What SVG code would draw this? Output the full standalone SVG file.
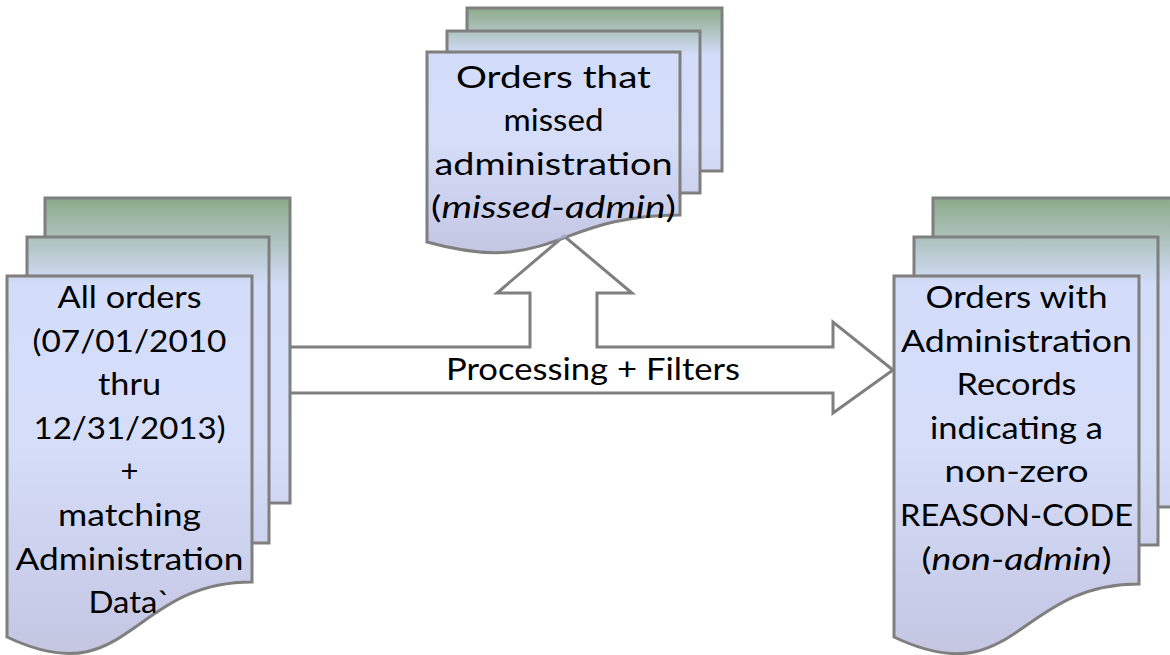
<svg xmlns="http://www.w3.org/2000/svg" xmlns:xlink="http://www.w3.org/1999/xlink" width="1170" height="655" viewBox="0 0 1170 655">
  <style>
    .page { stroke: #7f7f7f; stroke-width: 3; stroke-linejoin: miter; }
    .flow { fill: #ffffff; stroke: #7f7f7f; stroke-width: 3; stroke-linejoin: miter; }
    .label { font-family: Lato, "Liberation Sans", sans-serif; font-size: 31px; fill: #000000; text-anchor: middle; }
    .em { font-style: italic; }
  </style>
  <defs>
    <!-- shared page shading: green top edge, pale blue body, lavender foot -->
    <linearGradient id="shadeLeft" gradientUnits="userSpaceOnUse" x1="0" y1="198" x2="0" y2="652">
      <stop offset="0" stop-color="#8cab89"/>
      <stop offset="0.19" stop-color="#d3dcf8"/>
      <stop offset="0.55" stop-color="#d5ddf9"/>
      <stop offset="1" stop-color="#c4c6e2"/>
    </linearGradient>
    <linearGradient id="shadeTop" href="#shadeLeft" xlink:href="#shadeLeft" gradientUnits="userSpaceOnUse" x1="0" y1="8" x2="0" y2="252"/>
    <linearGradient id="shadeRight" href="#shadeLeft" xlink:href="#shadeLeft" gradientUnits="userSpaceOnUse" x1="0" y1="198" x2="0" y2="652"/>
    <clipPath id="topFrontClip">
      <path d="M427,52 L680,52 L680,215 C553.5,215 553.5,277 427,242 Z"/>
    </clipPath>
  </defs>

  <!-- block arrows -->
  <g id="connectors">
    <path class="flow" d="M290,347 L530,347 L530,293 L497,293 L564,236 L632,293 L597,293 L597,347 L833,347 L833,322 L893,370 L833,413 L833,393 L290,393"/>
    <text class="label" x="593" y="380" textLength="294" lengthAdjust="spacingAndGlyphs">Processing + Filters</text>
  </g>

  <!-- input stack -->
  <g id="all-orders">
    <rect class="page" x="45" y="198" width="245" height="305" fill="url(#shadeLeft)"/>
    <rect class="page" x="27" y="237" width="242" height="306" fill="url(#shadeLeft)"/>
    <path class="page" d="M7,276 L252,276 L252,582 C129.5,582 129.5,695 7,637 Z" fill="url(#shadeLeft)"/>
    <text class="label" x="129.5" y="308" textLength="144" lengthAdjust="spacingAndGlyphs">All orders</text>
    <text class="label" x="129.5" y="352" textLength="194" lengthAdjust="spacingAndGlyphs">(07/01/2010</text>
    <text class="label" x="129.5" y="395" textLength="63" lengthAdjust="spacingAndGlyphs">thru</text>
    <text class="label" x="129.5" y="439" textLength="192" lengthAdjust="spacingAndGlyphs">12/31/2013)</text>
    <text class="label" x="129.5" y="482">+</text>
    <text class="label" x="129.5" y="526" textLength="143" lengthAdjust="spacingAndGlyphs">matching</text>
    <text class="label" x="129.5" y="570" textLength="228" lengthAdjust="spacingAndGlyphs">Administration</text>
    <text class="label" x="129.5" y="613" textLength="82" lengthAdjust="spacingAndGlyphs">Data`</text>
  </g>

  <!-- missed-admin stack -->
  <g id="missed-admin">
    <rect class="page" x="467" y="8" width="255" height="163" fill="url(#shadeTop)"/>
    <rect class="page" x="447" y="31" width="253" height="162" fill="url(#shadeTop)"/>
    <path class="page" d="M427,52 L680,52 L680,215 C553.5,215 553.5,277 427,242 Z" fill="url(#shadeTop)"/>
    <!-- arrow tip seen faintly through the page -->
    <g clip-path="url(#topFrontClip)">
      <path d="M497,293 L564,236 L632,293" fill="none" stroke="#a3a7c6" stroke-width="3"/>
    </g>
    <text class="label" x="553.5" y="88" textLength="195" lengthAdjust="spacingAndGlyphs">Orders that</text>
    <text class="label" x="553.5" y="131" textLength="100" lengthAdjust="spacingAndGlyphs">missed</text>
    <text class="label" x="553.5" y="175" textLength="238" lengthAdjust="spacingAndGlyphs">administration</text>
    <text class="label" x="553.5" y="218" textLength="245" lengthAdjust="spacingAndGlyphs">(<tspan class="em">missed-admin</tspan>)</text>
  </g>

  <!-- non-admin stack -->
  <g id="non-admin">
    <rect class="page" x="933" y="198" width="247" height="309" fill="url(#shadeRight)"/>
    <rect class="page" x="914" y="237" width="244" height="308" fill="url(#shadeRight)"/>
    <path class="page" d="M894,276 L1139,276 L1139,584 C1016.5,584 1016.5,695 894,637 Z" fill="url(#shadeRight)"/>
    <text class="label" x="1016.5" y="308" textLength="182" lengthAdjust="spacingAndGlyphs">Orders with</text>
    <text class="label" x="1016.5" y="352" textLength="231" lengthAdjust="spacingAndGlyphs">Administration</text>
    <text class="label" x="1016.5" y="395" textLength="120" lengthAdjust="spacingAndGlyphs">Records</text>
    <text class="label" x="1016.5" y="439" textLength="173" lengthAdjust="spacingAndGlyphs">indicating a</text>
    <text class="label" x="1016.5" y="482" textLength="144" lengthAdjust="spacingAndGlyphs">non-zero</text>
    <text class="label" x="1016.5" y="526" textLength="233" lengthAdjust="spacingAndGlyphs">REASON-CODE</text>
    <text class="label" x="1016.5" y="570" textLength="190" lengthAdjust="spacingAndGlyphs">(<tspan class="em">non-admin</tspan>)</text>
  </g>
</svg>
